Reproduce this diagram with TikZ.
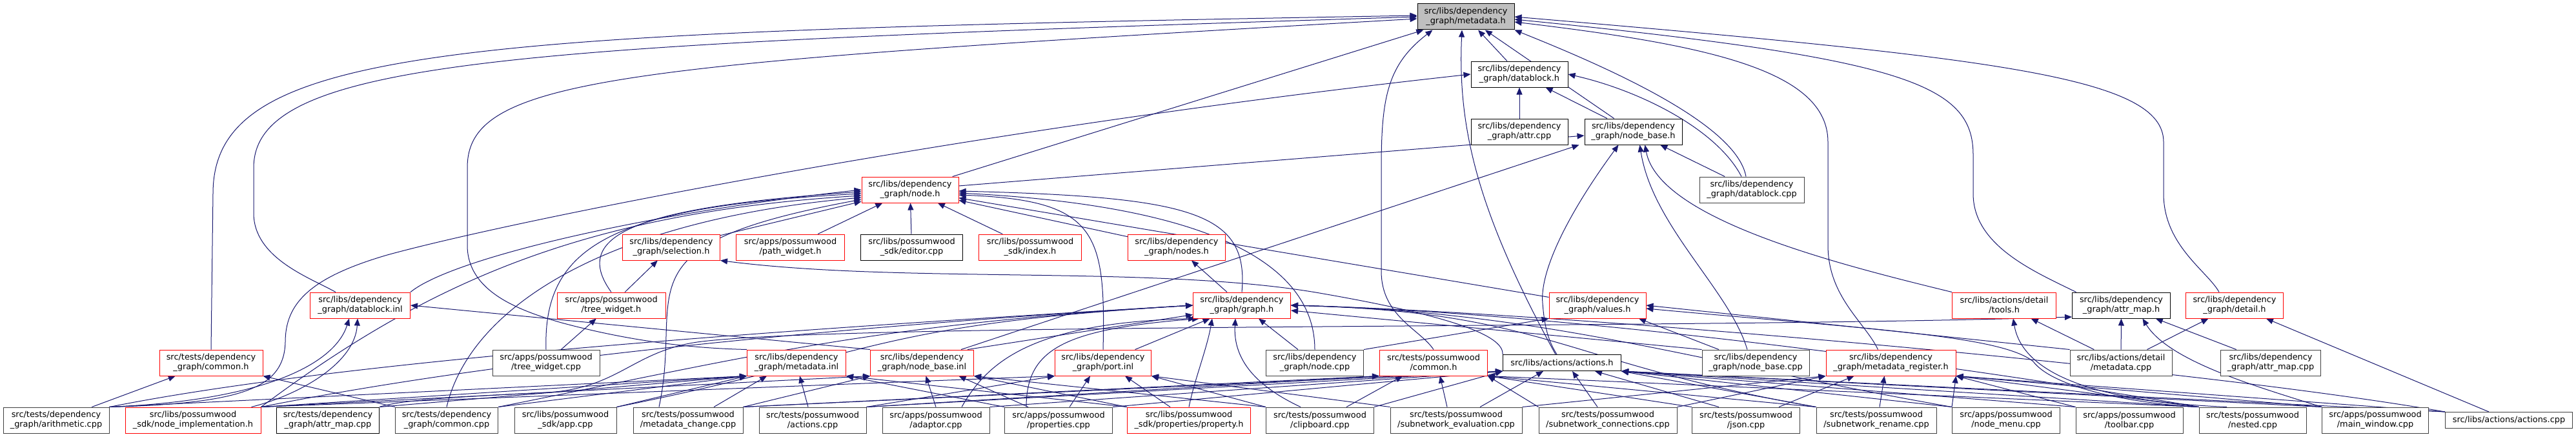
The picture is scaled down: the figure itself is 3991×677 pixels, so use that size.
\documentclass[tikz,border=0pt]{standalone}
\usepackage{fontspec}
\setmainfont{DejaVu Sans}
\usepackage{tikz}
\usetikzlibrary{positioning,arrows.meta,backgrounds}
\definecolor{edgeblue}{HTML}{191970}
\definecolor{trunc}{HTML}{FF0000}
\definecolor{leafgrey}{HTML}{404040}
\definecolor{rootfill}{HTML}{BFBFBF}
\newcommand{\dgfont}{\fontsize{12.9}{15}\selectfont}

\begin{document}
\begin{tikzpicture}[x=1pt,y=-1pt,
  file/.style={draw=black,line width=1pt,fill=white,minimum height=40pt,inner sep=0pt,align=center,font=\dgfont},
  cut/.style={file,draw=trunc},
  leaf/.style={file,draw=leafgrey},
  root/.style={file,fill=rootfill},
  dep/.style={draw=edgeblue,line width=1pt,{Triangle[length=11pt,width=9pt]}-}]
  \useasboundingbox (0,0) rectangle (3991,677);
  \node[root,minimum width=150pt] (meta) at (2271,26) {src/libs/dependency\\\_graph/metadata.h};
  \node[file,minimum width=150pt] (dbh) at (2354,115) {src/libs/dependency\\\_graph/datablock.h};
  \node[file,minimum width=150pt] (attrcpp) at (2354,204) {src/libs/dependency\\\_graph/attr.cpp};
  \node[file,minimum width=151pt,right=25pt of attrcpp] (nbh) {src/libs/dependency\\\_graph/node\_base.h};
  \node[cut,minimum width=150pt] (nodeh) at (1410,294) {src/libs/dependency\\\_graph/node.h};
  \node[leaf,minimum width=162pt] (dbcpp) at (2714,294) {src/libs/dependency\\\_graph/datablock.cpp};
  % row under node.h
  \node[cut,minimum width=151pt] (selh) at (1040,383) {src/libs/dependency\\\_graph/selection.h};
  \node[cut,minimum width=168pt,right=24pt of selh] (pathw) {src/apps/possumwood\\/path\_widget.h};
  \node[file,minimum width=158pt,right=24pt of pathw] (editor) {src/libs/possumwood\\\_sdk/editor.cpp};
  \node[cut,minimum width=159pt,right=24pt of editor] (index) {src/libs/possumwood\\\_sdk/index.h};
  \node[cut,minimum width=151pt] (nodes) at (1823,383) {src/libs/dependency\\\_graph/nodes.h};
  % middle row
  \node[cut,minimum width=155pt] (dbinl) at (558,473) {src/libs/dependency\\\_graph/datablock.inl};
  \node[cut,minimum width=168pt] (treeh) at (947,473) {src/apps/possumwood\\/tree\_widget.h};
  \node[cut,minimum width=151pt] (graphh) at (1924,473) {src/libs/dependency\\\_graph/graph.h};
  \node[cut,minimum width=150pt] (valh) at (2475,473) {src/libs/dependency\\\_graph/values.h};
  \node[cut,minimum width=161pt] (tools) at (3105,473) {src/libs/actions/detail\\/tools.h};
  \node[file,minimum width=152pt,right=24pt of tools] (amaph) {src/libs/dependency\\\_graph/attr\_map.h};
  \node[cut,minimum width=151pt,right=23pt of amaph] (detail) {src/libs/dependency\\\_graph/detail.h};
  % second row from the bottom
  \node[cut,minimum width=160pt] (commonh) at (327,562) {src/tests/dependency\\\_graph/common.h};
  \node[leaf,minimum width=166pt] (treecpp) at (846,562) {src/apps/possumwood\\/tree\_widget.cpp};
  \node[cut,minimum width=153pt] (metainl) at (1234,562) {src/libs/dependency\\\_graph/metadata.inl};
  \node[cut,minimum width=160pt,right=37pt of metainl] (nbinl) {src/libs/dependency\\\_graph/node\_base.inl};
  \node[cut,minimum width=149pt] (portinl) at (1709,562) {src/libs/dependency\\\_graph/port.inl};
  \node[leaf,minimum width=151pt] (nodecpp) at (2037,562) {src/libs/dependency\\\_graph/node.cpp};
  \node[cut,minimum width=167pt,right=24pt of nodecpp] (commonp) {src/tests/possumwood\\/common.h};
  \node[file,minimum width=183pt,minimum height=25pt,right=23pt of commonp] (actionsh) {src/libs/actions/actions.h};
  \node[leaf,minimum width=166pt] (nbcpp) at (2720,562) {src/libs/dependency\\\_graph/node\_base.cpp};
  \node[cut,minimum width=201pt,right=25pt of nbcpp] (metareg) {src/libs/dependency\\\_graph/metadata\_register.h};
  \node[leaf,minimum width=158pt] (metacpp) at (3286,562) {src/libs/actions/detail\\/metadata.cpp};
  \node[leaf,minimum width=155pt] (amapcpp) at (3518,562) {src/libs/dependency\\\_graph/attr\_map.cpp};
  % bottom row
  \node[leaf,minimum width=164pt] (arith) at (87,651) {src/tests/dependency\\\_graph/arithmetic.cpp};
  \node[cut,minimum width=210pt] (nodeimpl) at (299,651) {src/libs/possumwood\\\_sdk/node\_implementation.h};
  \node[file,minimum width=159pt] (tamap) at (508,651) {src/tests/dependency\\\_graph/attr\_map.cpp};
  \node[leaf,minimum width=159pt] (tcommon) at (692,651) {src/tests/dependency\\\_graph/common.cpp};
  \node[leaf,minimum width=158pt] (app) at (876,651) {src/libs/possumwood\\\_sdk/app.cpp};
  \node[leaf,minimum width=170pt] (metachg) at (1066,651) {src/tests/possumwood\\/metadata\_change.cpp};
  \node[leaf,minimum width=166pt] (tactions) at (1259,651) {src/tests/possumwood\\/actions.cpp};
  \node[leaf,minimum width=166pt] (adaptor) at (1450,651) {src/apps/possumwood\\/adaptor.cpp};
  \node[leaf,minimum width=167pt] (props) at (1640,651) {src/apps/possumwood\\/properties.cpp};
  \node[cut,minimum width=191pt] (property) at (1842,651) {src/libs/possumwood\\\_sdk/properties/property.h};
  \node[leaf,minimum width=167pt] (clip) at (2045,651) {src/tests/possumwood\\/clipboard.cpp};
  \node[leaf,minimum width=204pt] (subeval) at (2256,651) {src/tests/possumwood\\/subnetwork\_evaluation.cpp};
  \node[leaf,minimum width=214pt] (subconn) at (2491,651) {src/tests/possumwood\\/subnetwork\_connections.cpp};
  \node[leaf,minimum width=167pt] (json) at (2705,651) {src/tests/possumwood\\/json.cpp};
  \node[leaf,minimum width=186pt] (subren) at (2907,651) {src/tests/possumwood\\/subnetwork\_rename.cpp};
  \node[leaf,minimum width=167pt] (nodemenu) at (3108,651) {src/apps/possumwood\\/node\_menu.cpp};
  \node[leaf,minimum width=166pt] (toolbar) at (3299,651) {src/apps/possumwood\\/toolbar.cpp};
  \node[leaf,minimum width=166pt] (nested) at (3490,651) {src/tests/possumwood\\/nested.cpp};
  \node[leaf,minimum width=165pt] (mainwin) at (3680,651) {src/apps/possumwood\\/main\_window.cpp};
  \node[leaf,minimum width=197pt,minimum height=25pt] (libactions) at (3887,651) {src/libs/actions/actions.cpp};

  \begin{scope}[on background layer]
  \fill[white] (0,0) rectangle (3991,677);
  % top part
  \draw[dep] (meta) -- (dbh);
  \draw[dep] (meta) -- (nbh);
  \draw[dep] (dbh) -- (nbh);
  \draw[dep] (dbh) -- (attrcpp);
  \draw[dep] (nbh) -- (dbcpp);
  \draw[dep] (meta.south east) .. controls (2480,100) and (2690,190) .. ([xshift=-9pt]dbcpp.north);
  \draw[dep] (dbh.east) .. controls (2540,140) and (2660,200) .. ([xshift=-16pt]dbcpp.north);
  \draw[dep] (meta) -- (nodeh);
  \draw[dep] (nbh) -- (nodeh);
  \draw[dep] ([yshift=2pt]meta.west) .. controls (700,50) and (330,70) .. (330,300) -- (commonh.north);
  \draw[dep] (meta.west) .. controls (800,70) and (393,90) .. (393,260) -- (393,330) .. controls (393,400) and (480,430) .. ([xshift=-38pt]dbinl.north);
  \draw[dep] ([yshift=-3pt]meta.west) .. controls (950,100) and (724,120) .. (724,260) -- (724,380) .. controls (724,450) and (800,480) .. (870,500) .. controls (1000,535) and (1100,540) .. (metainl.north west);
  \draw[dep] ([xshift=24pt]meta.south west) .. controls (2150,100) and (2140,150) .. (2140,260) -- (2140,420) .. controls (2140,490) and (2200,510) .. (commonp.north);
  \draw[dep] ([xshift=-6pt]meta.south) .. controls (2258,200) and (2290,330) .. ([xshift=-10pt]actionsh.north);
  \draw[dep] ([yshift=-8pt]meta.east) .. controls (2650,70) and (2832,110) .. (2832,220) -- (2832,380) .. controls (2832,460) and (2890,500) .. ([xshift=-20pt]metareg.north);
  \draw[dep] ([yshift=-4pt]meta.east) .. controls (2950,90) and (3057,130) .. (3057,240) -- (3057,300) .. controls (3057,380) and (3150,420) .. ([xshift=-70pt]amaph.north);
  \draw[dep] (meta.east) .. controls (3100,90) and (3352,120) .. (3352,220) -- (3352,300) .. controls (3352,380) and (3420,420) .. ([xshift=-24pt]detail.north);
  \draw[dep] (dbh.west) .. controls (1500,200) and (800,340) .. (600,395) .. controls (480,430) and (442,470) .. (442,530) .. controls (440,600) and (380,625) .. (arith.north east);
  % node.h
  \draw[dep] (nodeh) -- (selh);
  \draw[dep] (nodeh) -- (pathw);
  \draw[dep] (nodeh) -- (editor);
  \draw[dep] (nodeh) -- (index);
  \draw[dep] (nodeh) -- (nodes);
  \draw[dep] (nodeh) -- (valh);
  \draw[dep] ([yshift=-2pt]nodeh.east) .. controls (1850,305) and (1935,330) .. (graphh.north);
  \draw[dep] ([yshift=-8pt]nodeh.east) .. controls (1700,310) and (1713,360) .. (portinl.north);
  \draw[dep] ([yshift=-5pt]nodeh.east) .. controls (1900,320) and (2037,420) .. (nodecpp.north);
  \draw[dep] (nodeh.west) .. controls (1000,330) and (700,400) .. (dbinl.north east);
  \draw[dep] ([yshift=-3pt]nodeh.west) .. controls (1000,320) and (880,360) .. (treeh.north);
  \draw[dep] ([yshift=-6pt]nodeh.west) .. controls (950,320) and (841,380) .. (treecpp.north);
  \draw[dep] ([yshift=-9pt]nodeh.west) .. controls (900,330) and (660,440) .. (nodeimpl.north east);
  \draw[dep] ([yshift=-12pt]nodeh.west) .. controls (950,340) and (730,470) .. (tcommon.north);
  \draw[dep] ([yshift=-15pt]nodeh.west) .. controls (950,380) and (1060,450) .. ([xshift=-45pt]metachg.north);
  % graph.h
  \draw[dep] (nodes) -- (graphh);
  \draw[dep] (graphh) -- (portinl);
  \draw[dep] (graphh) -- (nodecpp);
  \draw[dep] ([yshift=6pt]graphh.south west) -- ([xshift=-10pt]nbinl.north east);
  \foreach \s in {arith,nodeimpl,tcommon,app}
    \draw[dep] (graphh.west) .. controls +(-500,30) and +(400,-80) .. (\s.north east);
  \draw[dep] ([xshift=10pt]graphh.south west) .. controls (1650,510) and (1590,540) .. ([xshift=-50pt]props.north);
  \draw[dep] ([xshift=4pt]graphh.south west) .. controls (1600,500) and (1530,560) .. ([xshift=40pt]adaptor.north);
  \draw[dep] ([xshift=30pt]graphh.south west) .. controls (1870,540) and (1850,590) .. (property.north);
  \draw[dep] ([xshift=-10pt]graphh.south) .. controls (1910,560) and (1950,600) .. ([xshift=-30pt]clip.north);
  \foreach \s in {subren,nodemenu,nested,libactions}
    \draw[dep] (graphh.east) .. controls +(400,10) and +(-400,-70) .. (\s.north west);
  \draw[dep] ([yshift=-8pt]graphh.east) -- (nbcpp.north west);
  % selection.h, tree_widget.h, node_base.h
  \draw[dep] (selh) -- (treeh);
  \draw[dep] (treeh) -- (treecpp);
  \draw[dep] (selh.south east) .. controls (1400,440) and (1800,410) .. (2050,455) .. controls (2250,490) and (2330,520) .. (actionsh.north west);
  \draw[dep] ([xshift=-23pt]nbh.south) .. controls (2430,330) and (2385,420) .. (2390,470) .. controls (2393,510) and (2400,530) .. ([xshift=-8pt]actionsh.north);
  \draw[dep] ([xshift=10pt]nbh.south) .. controls (2560,350) and (2680,450) .. ([xshift=-13pt]nbcpp.north);
  \draw[dep] ([xshift=18pt]nbh.south) .. controls (2570,340) and (2850,410) .. (tools.north west);
  \draw[dep] ([xshift=-8pt]nbh.south west) -- ([xshift=-20pt]nbinl.north east);
  % common.h and datablock.inl
  \draw[dep] (commonh) -- (arith);
  \draw[dep] (commonh.south east) -- (tcommon.north west);
  \draw[dep] ([xshift=-4pt]dbinl.south) .. controls (550,560) and (470,610) .. ([xshift=-15pt]nodeimpl.north east);
  \draw[dep] ([xshift=-17pt]dbinl.south) .. controls (520,560) and (420,620) .. (arith.north east);
  \draw[dep] (dbinl.east) -- (nbinl.north west);
  % the .inl files
  \foreach \s in {arith,nodeimpl,tamap,tcommon,app}
    \draw[dep] (metainl.south west) -- (\s.north east);
  \draw[dep] ([xshift=-46pt]metainl.south) -- ([xshift=40pt]metachg.north);
  \draw[dep] ([xshift=5pt]metainl.south) -- ([xshift=-7pt]tactions.north);
  \foreach \s in {props,property}
    \draw[dep] (metainl.south east) -- (\s.north west);
  \foreach \s in {nodeimpl,metachg}
    \draw[dep] (nbinl.south west) -- (\s.north east);
  \draw[dep] ([xshift=6pt]nbinl.south) -- (adaptor.north);
  \draw[dep] ([xshift=57pt]nbinl.south) -- ([xshift=-47pt]props.north);
  \foreach \s in {property,clip}
    \draw[dep] (nbinl.south east) -- (\s.north west);
  \foreach \s in {nodeimpl,tactions}
    \draw[dep] (portinl.south west) -- (\s.north east);
  \draw[dep] ([xshift=-20pt]portinl.south) -- ([xshift=17pt]props.north);
  \draw[dep] ([xshift=34pt]portinl.south) -- ([xshift=-29pt]property.north);
  \foreach \s in {clip,subeval}
    \draw[dep] (portinl.south east) -- (\s.north west);
  % possumwood tests and actions
  \foreach \s in {metachg,tactions}
    \draw[dep] (commonp.south west) -- (\s.north east);
  \draw[dep] ([xshift=-48pt]commonp.south) -- ([xshift=41pt]clip.north);
  \draw[dep] ([xshift=10pt]commonp.south) -- ([xshift=-14pt]subeval.north);
  \foreach \s in {subconn,json,subren,nested}
    \draw[dep] (commonp.south east) -- (\s.north west);
  \foreach \s in {metachg,tactions,adaptor,props,clip}
    \draw[dep] (actionsh.south west) -- (\s.north east);
  \draw[dep] ([xshift=-29pt]actionsh.south) -- ([xshift=37pt]subeval.north);
  \draw[dep] ([xshift=16pt]actionsh.south) -- ([xshift=-16pt]subconn.north);
  \draw[dep] ([xshift=51pt]actionsh.south) -- ([xshift=-42pt]json.north);
  \foreach \s in {subren,nodemenu,toolbar,nested,mainwin,libactions}
    \draw[dep] (actionsh.south east) -- (\s.north west);
  \foreach \s in {subeval,subconn}
    \draw[dep] (metareg.south west) -- (\s.north east);
  \draw[dep] ([xshift=-57pt]metareg.south) -- ([xshift=51pt]json.north);
  \draw[dep] ([xshift=-10pt]metareg.south) -- ([xshift=5pt]subren.north);
  \foreach \s in {nodemenu,toolbar,nested,mainwin,libactions}
    \draw[dep] (metareg.south east) -- (\s.north west);
  % values.h, tools.h, attr_map.h, detail.h
  \draw[dep] (valh.south west) -- (nodecpp.north east);
  \draw[dep] ([xshift=64pt]valh.south) -- ([xshift=-57pt]nbcpp.north);
  \draw[dep] (valh.east) -- (metacpp.north west);
  \draw[dep] ([yshift=-5pt]valh.east) .. controls (2900,510) and (3100,520) .. (3150,560) .. controls (3180,600) and (3300,625) .. (nested.north west);
  \draw[dep] (tools) -- (metacpp);
  \draw[dep] ([xshift=14pt]tools.south) .. controls (3130,560) and (3200,620) .. ([xshift=-40pt]nested.north);
  \draw[dep] (amaph) -- (metacpp);
  \draw[dep] (amaph) -- (amapcpp);
  \draw[dep] ([xshift=33pt]amaph.south) .. controls (3360,560) and (3500,600) .. (mainwin.north west);
  \draw[dep] ([yshift=-18pt]amaph.west) .. controls (2600,510) and (1300,500) .. (1080,530) .. controls (980,545) and (960,600) .. (850,608) .. controls (700,615) and (620,620) .. (tamap.north east);
  \draw[dep] (detail) -- (metacpp);
  \draw[dep] (detail) -- (libactions);
  \end{scope}
\end{tikzpicture}
\end{document}
